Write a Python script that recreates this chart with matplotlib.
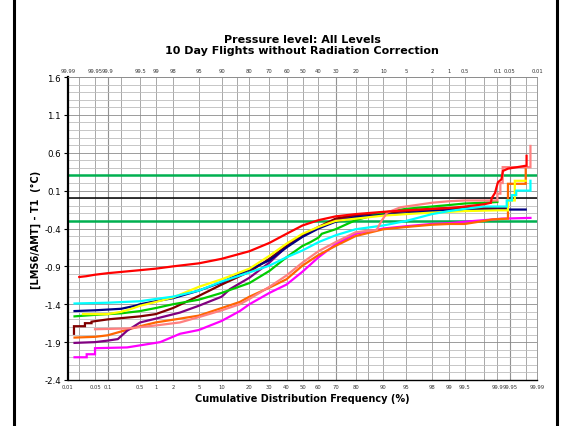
import math
import numpy as np
import matplotlib
matplotlib.use("Agg")
import matplotlib.pyplot as plt
from matplotlib.lines import Line2D

# ---- data: cumulative frequency (%) vs temperature difference (degC) ----
red_p = [0.02, 0.03, 0.05, 0.1, 0.5, 1, 2, 5, 10, 20, 30, 40, 50, 60, 70, 80, 90, 95, 99, 99.5, 99.8,
         99.86, 99.865, 99.887, 99.895, 99.903, 99.92, 99.926, 99.944, 99.981, 99.981]
red_v = [-1.04, -1.03, -1.01, -0.99, -0.95, -0.93, -0.90, -0.86, -0.80, -0.70, -0.59, -0.47, -0.36, -0.29,
         -0.24, -0.21, -0.18, -0.16, -0.13, -0.11, -0.08, -0.06, 0.00, 0.07, 0.14, 0.21, 0.25, 0.36, 0.39, 0.43, 0.56]

cyan_p = [0.015, 0.1, 0.5, 1, 2, 5, 10, 20, 30, 40, 50, 60, 70, 80, 90, 95, 98, 99, 99.5, 99.8, 99.94,
          99.94, 99.955, 99.955, 99.965, 99.965, 99.985, 99.985]
cyan_v = [-1.39, -1.38, -1.36, -1.33, -1.30, -1.22, -1.10, -0.98, -0.89, -0.78, -0.69, -0.58, -0.49, -0.41,
          -0.36, -0.30, -0.21, -0.17, -0.14, -0.11, -0.11, -0.03, -0.03, 0.04, 0.04, 0.10, 0.10, 0.23]

navy_p = [0.015, 0.05, 0.2, 0.4, 0.5, 1, 2, 5, 10, 20, 30, 40, 50, 60, 70, 80, 90, 95, 98, 99, 99.5, 99.9, 99.98]
navy_v = [-1.49, -1.48, -1.46, -1.42, -1.40, -1.36, -1.32, -1.22, -1.11, -0.94, -0.82, -0.65, -0.51, -0.40,
          -0.31, -0.25, -0.22, -0.20, -0.17, -0.16, -0.16, -0.15, -0.15]

yellow_p = [0.025, 0.05, 0.1, 0.2, 0.3, 0.5, 1, 2, 5, 10, 20, 30, 40, 50, 60, 70, 80, 90, 95, 98, 99, 99.5,
            99.9, 99.944, 99.944, 99.962, 99.962, 99.98]
yellow_v = [-1.53, -1.53, -1.53, -1.50, -1.47, -1.42, -1.37, -1.31, -1.17, -1.07, -0.93, -0.76, -0.60, -0.47,
            -0.38, -0.30, -0.27, -0.23, -0.21, -0.19, -0.18, -0.17, -0.16, -0.16, -0.03, -0.03, 0.23, 0.23]

green_p = [0.015, 0.05, 0.2, 0.5, 1, 2, 5, 10, 20, 30, 40, 50, 55, 60, 62, 70, 80, 90, 95, 98, 99, 99.5, 99.8, 99.9]
green_v = [-1.56, -1.54, -1.52, -1.49, -1.45, -1.40, -1.34, -1.25, -1.12, -0.96, -0.78, -0.63, -0.58, -0.52,
           -0.47, -0.41, -0.29, -0.19, -0.14, -0.11, -0.09, -0.07, -0.06, -0.05]

maroon_p = [0.0145, 0.0145, 0.028, 0.028, 0.041, 0.041, 0.1, 0.5, 1, 2, 5, 10, 20, 30, 40, 50, 60, 70, 80,
            90, 95, 98, 99, 99.5, 99.9, 99.94]
maroon_v = [-1.79, -1.69, -1.69, -1.65, -1.65, -1.63, -1.60, -1.56, -1.53, -1.45, -1.29, -1.14, -0.97, -0.80,
            -0.63, -0.49, -0.38, -0.27, -0.22, -0.19, -0.17, -0.14, -0.13, -0.13, -0.13, -0.13]

purple_p = [0.015, 0.05, 0.1, 0.17, 0.27, 0.5, 1, 2.6, 5, 10, 12.5, 20, 30, 40, 50, 60, 70, 80, 90, 95, 98,
            99, 99.5, 99.9, 99.94]
purple_v = [-1.91, -1.90, -1.88, -1.86, -1.75, -1.64, -1.59, -1.51, -1.42, -1.30, -1.20, -1.05, -0.85, -0.64,
            -0.50, -0.39, -0.29, -0.23, -0.19, -0.17, -0.16, -0.15, -0.15, -0.15, -0.15]

orange_p = [0.015, 0.05, 0.1, 0.2, 0.5, 1, 2.6, 5, 10, 16, 20, 30, 40, 50, 60, 70, 80, 90, 95, 98, 99, 99.5,
            99.8, 99.87, 99.944, 99.944, 99.98, 99.98]
orange_v = [-1.84, -1.83, -1.81, -1.76, -1.69, -1.64, -1.59, -1.55, -1.45, -1.37, -1.30, -1.18, -1.07, -0.89,
            -0.75, -0.63, -0.50, -0.41, -0.38, -0.35, -0.34, -0.34, -0.30, -0.28, -0.27, 0.19, 0.19, 0.40]

salmon_p = [0.05, 0.27, 1, 2.6, 5, 10, 16, 20, 30, 40, 50, 60, 70, 80, 85, 88, 89.5, 91, 94, 98, 99, 99.5,
            99.8, 99.9, 99.9, 99.915, 99.915, 99.925, 99.925, 99.985, 99.985]
salmon_v = [-1.73, -1.72, -1.68, -1.64, -1.57, -1.48, -1.40, -1.33, -1.17, -1.02, -0.85, -0.70, -0.58, -0.45,
            -0.43, -0.42, -0.30, -0.19, -0.12, -0.06, -0.04, -0.03, -0.03, -0.03, 0.06, 0.06, 0.20, 0.20, 0.41,
            0.41, 0.69]

magenta_p = [0.015, 0.031, 0.031, 0.05, 0.05, 0.27, 1.2, 2.6, 5, 10, 16, 20, 30, 40, 50, 60, 70, 80, 90, 95,
             98, 99, 99.5, 99.8, 99.92, 99.985]
magenta_v = [-2.10, -2.10, -2.06, -2.06, -1.98, -1.97, -1.90, -1.79, -1.74, -1.62, -1.49, -1.40, -1.25, -1.14,
             -0.97, -0.78, -0.61, -0.47, -0.40, -0.37, -0.34, -0.33, -0.31, -0.29, -0.27, -0.26]

series = [
    (magenta_p, magenta_v, "#FF00FF"),
    (orange_p, orange_v, "#FF6600"),
    (purple_p, purple_v, "#800080"),
    (maroon_p, maroon_v, "#800000"),
    (green_p, green_v, "#00CC00"),
    (navy_p, navy_v, "#000080"),
    (yellow_p, yellow_v, "#FFFF00"),
    (cyan_p, cyan_v, "#00FFFF"),
    (salmon_p, salmon_v, "#FF8080"),
    (red_p, red_v, "#FF0000"),
]

prob_ticks = [0.01, 0.05, 0.1, 0.5, 1, 2, 5, 10, 20, 30, 40, 50, 60, 70, 80, 90, 95, 98, 99, 99.5, 99.9,
              99.95, 99.99]
prob_grid = [0.02, 0.2, 15, 85, 99.8, 99.98]
limit_lines = [0.3, -0.3]


# ---- normal probability scale (inverse normal CDF, Acklam approximation) ----
_a = [-3.969683028665376e+01, 2.209460984245205e+02, -2.759285104469687e+02,
      1.383577518672690e+02, -3.066479806614716e+01, 2.506628277459239e+00]
_b = [-5.447609879822406e+01, 1.615858368580409e+02, -1.556989798598866e+02,
      6.680131188771972e+01, -1.328068155288572e+01]
_c = [-7.784894002430293e-03, -3.223964580411365e-01, -2.400758277161838e+00,
      -2.549732539343734e+00, 4.374664141464968e+00, 2.938163982698783e+00]
_d = [7.784695709041462e-03, 3.224671290700398e-01, 2.445134137142996e+00,
      3.754408661907416e+00]


def _ppf(p):
    p = np.clip(np.asarray(p, dtype=float), 1e-12, 1 - 1e-12)
    plow = 0.02425
    q = np.sqrt(-2 * np.log(np.minimum(p, 1 - p)))
    tail = (((((_c[0]*q + _c[1])*q + _c[2])*q + _c[3])*q + _c[4])*q + _c[5]) / \
           ((((_d[0]*q + _d[1])*q + _d[2])*q + _d[3])*q + 1)
    r0 = p - 0.5
    r = r0 * r0
    mid = (((((_a[0]*r + _a[1])*r + _a[2])*r + _a[3])*r + _a[4])*r + _a[5]) * r0 / \
          (((((_b[0]*r + _b[1])*r + _b[2])*r + _b[3])*r + _b[4])*r + 1)
    return np.where(p < plow, tail, np.where(p > 1 - plow, -tail, mid))


_erf = np.vectorize(math.erf)


def prob_fwd(x):
    return _ppf(np.asarray(x, dtype=float) / 100.0)


def prob_inv(z):
    z = np.asarray(z, dtype=float)
    return 100.0 * 0.5 * (1 + _erf(z / math.sqrt(2)))


def fmt(v):
    return "%g" % round(v, 4)


fig = plt.figure(figsize=(5.69, 4.27), dpi=100)
fig.patch.set_facecolor("white")
ax = fig.add_axes([68 / 569, 1 - 381 / 427, 469 / 569, 303 / 427])

ax.set_xscale("function", functions=(prob_fwd, prob_inv))
ax.set_xlim(0.01, 99.99)
ax.set_ylim(-2.4, 1.6)

# grid
ax.set_xticks(prob_ticks)
ax.set_xticklabels([fmt(t) for t in prob_ticks])
ax.set_xticks(prob_grid, minor=True)
ax.set_yticks(np.arange(-2.4, 1.61, 0.5))
ax.set_yticks(np.arange(-2.4, 1.61, 0.1), minor=True)
ax.yaxis.set_major_formatter(matplotlib.ticker.FormatStrFormatter("%.1f"))
ax.grid(which="major", axis="x", color="#9a9a9a", lw=0.6)
ax.grid(which="minor", axis="x", color="#9a9a9a", lw=0.6)
ax.grid(which="major", axis="y", color="#8c8c8c", lw=0.6)
ax.grid(which="minor", axis="y", color="#bdbdbd", lw=0.6)
ax.set_axisbelow(True)
for p in [0.1, 70, 99.95]:
    ax.axvline(p, color="#6e6e6e", lw=0.8, zorder=0.5)

ax.tick_params(axis="x", which="both", length=0, labelsize=3.8, pad=3, colors="#333333")
ax.tick_params(axis="y", which="major", length=3, width=0.8, labelsize=6.2, pad=2)
ax.tick_params(axis="y", which="minor", length=0)

for side in ["top", "right"]:
    ax.spines[side].set_color("#8c8c8c")
    ax.spines[side].set_linewidth(0.6)
ax.spines["left"].set_linewidth(1.6)
ax.spines["bottom"].set_linewidth(1.0)

# reference lines
ax.axhline(0, color="black", lw=1.1, zorder=2)
for y in limit_lines:
    ax.axhline(y, color="#00B050", lw=1.8, zorder=2)

for p, v, c in series:
    ax.plot(p, v, color=c, lw=1.6, zorder=3, solid_joinstyle="miter")

# top axis shows the complementary frequency
top = ax.twiny()
top.set_xscale("function", functions=(prob_fwd, prob_inv))
top.set_xlim(0.01, 99.99)
top.set_xticks(prob_ticks)
top.set_xticklabels([fmt(100 - t) for t in prob_ticks])
top.tick_params(axis="x", length=0, labelsize=3.8, pad=3, colors="#333333")
for s in top.spines.values():
    s.set_visible(False)

fig.text(302 / 569, 1 - 40 / 427, "Pressure level: All Levels", ha="center", va="center",
         fontsize=8, fontweight="bold")
fig.text(302 / 569, 1 - 51 / 427, "10 Day Flights without Radiation Correction", ha="center",
         va="center", fontsize=8, fontweight="bold")
fig.text(302 / 569, 1 - 399 / 427, "Cumulative Distribution Frequency (%)", ha="center", va="center",
         fontsize=7, fontweight="bold")
fig.text(36 / 569, 1 - 230 / 427, "[LMS6/AMT] - T1  (\u00b0C)", ha="center", va="center",
         rotation=90, fontsize=7, fontweight="bold")

# frame bars
for xf in [14 / 569, 557 / 569]:
    fig.add_artist(Line2D([xf, xf], [0, 1], color="black", lw=2.2, transform=fig.transFigure))

fig.savefig("out.png", dpi=100)
